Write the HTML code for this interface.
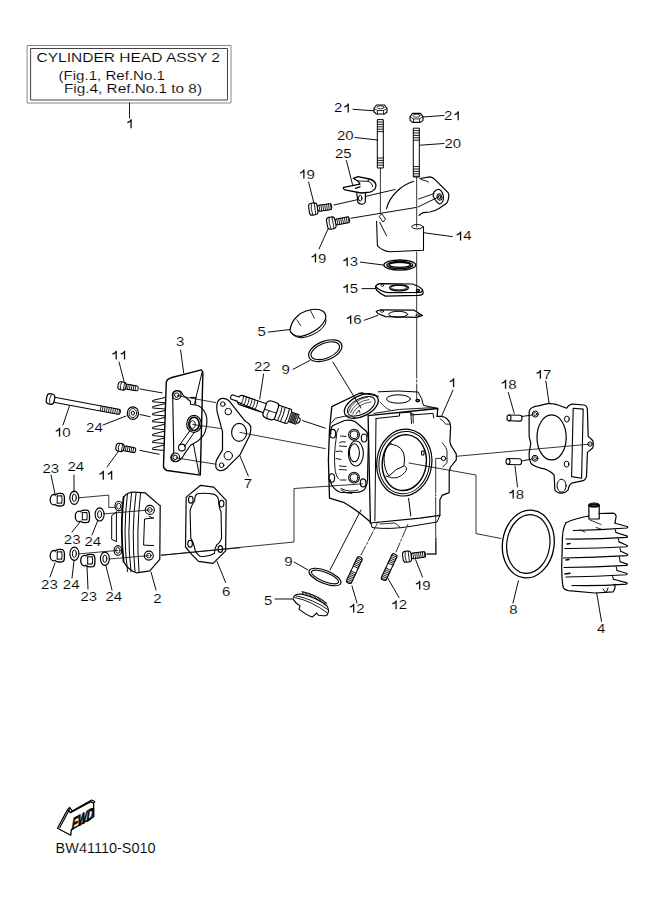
<!DOCTYPE html>
<html><head><meta charset="utf-8"><style>
html,body{margin:0;padding:0;background:#fff;width:661px;height:913px;overflow:hidden}
svg{display:block;font-family:"Liberation Sans",sans-serif}
</style></head><body>
<svg width="661" height="913" viewBox="0 0 661 913">
<g fill="none" stroke="#000" stroke-linejoin="round" stroke-linecap="round">
<rect x="27.5" y="45.5" width="203.5" height="57.5" stroke="#888" stroke-width="1"/>
<rect x="31" y="48.5" width="196.5" height="51.5" stroke="#444" stroke-width="1"/>
<line x1="129.5" y1="103" x2="129.5" y2="118" stroke-width="0.9" />
<g transform="translate(380.5,109.5)"><path d="M-6.5,-1 L-4,-4.5 L4,-4.5 L6.5,-1 L6.5,2.5 L4,4.5 L-4,4.5 L-6.5,2.5 Z" stroke-width="1.1"/><path d="M-6.5,-1 L-3,1 L3,1 L6.5,-1 M-3,1 L-3,4.5 M3,1 L3,4.5" stroke-width="0.8"/><ellipse cx="0" cy="-2.2" rx="3.5" ry="1.5" stroke-width="0.8"/></g>
<g transform="translate(416.5,117.9)"><path d="M-6.5,-1 L-4,-4.5 L4,-4.5 L6.5,-1 L6.5,2.5 L4,4.5 L-4,4.5 L-6.5,2.5 Z" stroke-width="1.1"/><path d="M-6.5,-1 L-3,1 L3,1 L6.5,-1 M-3,1 L-3,4.5 M3,1 L3,4.5" stroke-width="0.8"/><ellipse cx="0" cy="-2.2" rx="3.5" ry="1.5" stroke-width="0.8"/></g>
<rect x="377.7" y="119.6" width="5.6" height="48.400000000000006" stroke-width="1"/>
<line x1="377.7" y1="122.0" x2="383.3" y2="122.0" stroke-width="0.9" />
<line x1="377.7" y1="124.39999999999999" x2="383.3" y2="124.39999999999999" stroke-width="0.9" />
<line x1="377.7" y1="126.8" x2="383.3" y2="126.8" stroke-width="0.9" />
<line x1="377.7" y1="129.2" x2="383.3" y2="129.2" stroke-width="0.9" />
<line x1="377.7" y1="131.6" x2="383.3" y2="131.6" stroke-width="0.9" />
<line x1="377.7" y1="158.0" x2="383.3" y2="158.0" stroke-width="0.9" />
<line x1="377.7" y1="160.39999999999998" x2="383.3" y2="160.39999999999998" stroke-width="0.9" />
<line x1="377.7" y1="162.79999999999998" x2="383.3" y2="162.79999999999998" stroke-width="0.9" />
<line x1="377.7" y1="165.2" x2="383.3" y2="165.2" stroke-width="0.9" />
<rect x="413.7" y="128.2" width="5.6" height="48.80000000000001" stroke-width="1"/>
<line x1="413.7" y1="130.6" x2="419.3" y2="130.6" stroke-width="0.9" />
<line x1="413.7" y1="133.0" x2="419.3" y2="133.0" stroke-width="0.9" />
<line x1="413.7" y1="135.39999999999998" x2="419.3" y2="135.39999999999998" stroke-width="0.9" />
<line x1="413.7" y1="137.79999999999998" x2="419.3" y2="137.79999999999998" stroke-width="0.9" />
<line x1="413.7" y1="140.2" x2="419.3" y2="140.2" stroke-width="0.9" />
<line x1="413.7" y1="166.6" x2="419.3" y2="166.6" stroke-width="0.9" />
<line x1="413.7" y1="169.0" x2="419.3" y2="169.0" stroke-width="0.9" />
<line x1="413.7" y1="171.39999999999998" x2="419.3" y2="171.39999999999998" stroke-width="0.9" />
<line x1="413.7" y1="173.79999999999998" x2="419.3" y2="173.79999999999998" stroke-width="0.9" />
<line x1="413.7" y1="176.2" x2="419.3" y2="176.2" stroke-width="0.9" />
<line x1="353" y1="109.3" x2="374" y2="110.8" stroke-width="0.95" />
<line x1="422.5" y1="117" x2="444" y2="115.5" stroke-width="0.95" />
<line x1="355" y1="137.5" x2="377.7" y2="140" stroke-width="0.95" />
<line x1="420" y1="145.2" x2="444" y2="143.5" stroke-width="0.95" />
<line x1="380.4" y1="168" x2="380.4" y2="213" stroke-width="0.8" />
<line x1="416.7" y1="177" x2="416.7" y2="227" stroke-width="0.8" />
<line x1="416.7" y1="252" x2="416.7" y2="400" stroke-width="0.8" stroke-dasharray="60 2 2 2"/>
<path d="M353.3,178.3 L358,176.7 L369.3,179 Q375.5,180.5 376,185.5 Q375.5,190.5 370,192.2 L361.3,193 L345,189.8 Q342.3,188.6 343.8,187.3 L360,184.2 L357.8,181 Z" stroke-width="1.3" />
<path d="M357.8,181 L368,181.3 L369.3,179 M368,181.3 Q372.5,183 372.6,186.5" stroke-width="0.9" />
<path d="M356.7,193 L358,202.5 Q360,204.5 362.7,204.2 Q365,203.5 365.3,202 L365.5,193" stroke-width="1.2" />
<ellipse cx="360.2" cy="198.2" rx="1.7" ry="2.9" transform="rotate(0 360.2 198.2)" stroke-width="1.0" />
<path d="M355.5,188.3 L360,186.8" stroke-width="1.4" />
<line x1="346.4" y1="160.5" x2="352.5" y2="184.5" stroke-width="0.95" />
<g transform="translate(313.5,209) rotate(-7.86)"><rect x="4.0" y="-3" width="14.3" height="6" rx="1.8" stroke-width="1.0"/><line x1="6.0" y1="-3" x2="6.0" y2="3" stroke-width="0.8"/><line x1="7.9" y1="-3" x2="7.9" y2="3" stroke-width="0.8"/><line x1="9.8" y1="-3" x2="9.8" y2="3" stroke-width="0.8"/><line x1="11.7" y1="-3" x2="11.7" y2="3" stroke-width="0.8"/><line x1="13.6" y1="-3" x2="13.6" y2="3" stroke-width="0.8"/><line x1="15.5" y1="-3" x2="15.5" y2="3" stroke-width="0.8"/><line x1="17.4" y1="-3" x2="17.4" y2="3" stroke-width="0.8"/><rect x="-4.5" y="-6" width="8.5" height="12" rx="3" fill="#fff" stroke-width="1.1"/><path d="M-1.5,-5.5 Q-3,0 -1.5,5.5 M1.5,-5.7 L1.5,5.7" stroke-width="0.8"/></g>
<g transform="translate(331.5,223) rotate(-11.00)"><rect x="4.0" y="-3" width="14.3" height="6" rx="1.8" stroke-width="1.0"/><line x1="6.0" y1="-3" x2="6.0" y2="3" stroke-width="0.8"/><line x1="7.9" y1="-3" x2="7.9" y2="3" stroke-width="0.8"/><line x1="9.8" y1="-3" x2="9.8" y2="3" stroke-width="0.8"/><line x1="11.7" y1="-3" x2="11.7" y2="3" stroke-width="0.8"/><line x1="13.6" y1="-3" x2="13.6" y2="3" stroke-width="0.8"/><line x1="15.5" y1="-3" x2="15.5" y2="3" stroke-width="0.8"/><line x1="17.4" y1="-3" x2="17.4" y2="3" stroke-width="0.8"/><rect x="-4.5" y="-6" width="8.5" height="12" rx="3" fill="#fff" stroke-width="1.1"/><path d="M-1.5,-5.5 Q-3,0 -1.5,5.5 M1.5,-5.7 L1.5,5.7" stroke-width="0.8"/></g>
<line x1="308.6" y1="182" x2="313.9" y2="203.1" stroke-width="0.95" />
<line x1="319" y1="249" x2="328" y2="229" stroke-width="0.95" />
<line x1="334" y1="205" x2="357.8" y2="199.6" stroke-width="0.95" />
<line x1="366" y1="196.3" x2="395" y2="189.5" stroke-width="0.95" />
<line x1="351" y1="218.2" x2="416" y2="207.5" stroke-width="0.95" />
<line x1="418" y1="207" x2="439" y2="196.7" stroke-width="0.95" />
<path d="M413.7,181.3 C402,185 390,195 386.5,208.6" stroke-width="1.1" />
<path d="M419.7,178.5 L429.9,176.8 Q432.5,177.2 434.5,179.1 L448.1,192.7 Q449.5,195 448.6,197.2 Q448.5,200.5 446.9,202.9 L439,208.6 Q434,211.5 429.9,212 L423.1,212.6 Q421,213.5 419.1,215.4" stroke-width="1.2" />
<path d="M421,179.5 Q426,180.5 428.5,182" stroke-width="0.9" />
<path d="M434,192 Q437,188.8 439.5,189.5 Q443.5,192.5 443.5,198 Q443,203.5 439.5,204 Q436,202 433.3,196.5 Q432.5,194 434,192 Z" stroke-width="1.2" />
<ellipse cx="439.5" cy="197" rx="2.3" ry="3.2" transform="rotate(-15 439.5 197)" stroke-width="1.0" />
<ellipse cx="439.6" cy="197" rx="1.1" ry="1.8" transform="rotate(-15 439.6 197)" stroke-width="0.9" />
<path d="M418.6,199 L434.3,193.5" stroke-width="0.9" />
<path d="M376.6,221.4 L377.4,245.6 Q382,251 390,251.7 L423.5,250.2 L423.5,226.7" stroke-width="1.1" />
<ellipse cx="417.3" cy="226.7" rx="5.5" ry="2.2" transform="rotate(0 417.3 226.7)" stroke-width="1.0" />
<path d="M382,214 L385.5,219 L383,222 L379.5,217 Z" stroke-width="0.9" />
<line x1="379.7" y1="222.2" x2="386.5" y2="235.8" stroke-width="0.95" />
<line x1="424.3" y1="232.8" x2="452.3" y2="236.6" stroke-width="0.95" />
<ellipse cx="399.8" cy="265.1" rx="15.9" ry="5.1" transform="rotate(0 399.8 265.1)" stroke-width="1.3" />
<ellipse cx="399.8" cy="265.1" rx="13" ry="3.7" transform="rotate(0 399.8 265.1)" stroke-width="1.1" />
<ellipse cx="399.8" cy="264.8" rx="10.8" ry="2.6" transform="rotate(0 399.8 264.8)" stroke-width="1.2" />
<ellipse cx="399.8" cy="265.7" rx="12" ry="3" transform="rotate(0 399.8 265.7)" stroke-width="0.7" />
<line x1="360.4" y1="262.1" x2="383.9" y2="265.1" stroke-width="0.95" />
<path d="M375.6,286.3 Q377,283.8 380.8,283.6 L412.6,284 Q419,286 422.5,289.6 Q422.5,291.8 420.2,292.4 L388.4,292.7 Q380,291.5 375.6,286.3 Z" stroke-width="1.2" />
<path d="M375.6,286.3 Q375.5,289 377,290.5 Q381,294.5 385.4,296.1 L418.7,295.4 Q422.5,295 423.2,293.2 L422.5,289.6" stroke-width="1.2" />
<ellipse cx="399" cy="287.8" rx="9.5" ry="3" transform="rotate(0 399 287.8)" stroke-width="1.2" />
<ellipse cx="399" cy="287.6" rx="8" ry="2.2" transform="rotate(0 399 287.6)" stroke-width="0.8" />
<circle cx="382.4" cy="285.4" r="1.2" stroke-width="0.8" />
<ellipse cx="417.9" cy="290.4" rx="1.6" ry="1.1" transform="rotate(0 417.9 290.4)" stroke-width="1.3" />
<line x1="362" y1="288.6" x2="375.6" y2="288.6" stroke-width="0.95" />
<path d="M376.3,311.3 L380.8,309.8 L414.1,310.2 L422.5,315.4 L417.2,317.3 L385.4,316.6 L377.8,313.5 Z" stroke-width="1.2" />
<ellipse cx="398.2" cy="314.3" rx="9.5" ry="3" transform="rotate(0 398.2 314.3)" stroke-width="1.0" />
<ellipse cx="382" cy="311.3" rx="1.6" ry="1" transform="rotate(0 382 311.3)" stroke-width="0.8" />
<ellipse cx="417.5" cy="315.2" rx="1.8" ry="1" transform="rotate(0 417.5 315.2)" stroke-width="0.8" />
<line x1="364.2" y1="320.3" x2="377.8" y2="315.4" stroke-width="0.95" />
<path d="M290.1,330 Q291,322 297,316.5 Q301,312.5 306,311 L312,309.5 Q319,308.5 323.5,311.5 Q326.5,314.5 325.6,318.6 Q323.5,324 318,328.5 Q310,334.5 301.4,336.3 Q293.5,337 290.1,331 Z" stroke-width="1.2" />
<path d="M291,332.5 Q294,337.5 302,337.8 Q314,336 322,328.5 Q326.5,324 326.2,320" stroke-width="1.0" />
<path d="M296.9,319.7 L300.7,325.7 M310.5,310.6 L314.3,318.2" stroke-width="0.8" />
<line x1="268.2" y1="332.1" x2="290.1" y2="329.5" stroke-width="0.95" />
<ellipse cx="325.3" cy="350.7" rx="17.5" ry="9.5" transform="rotate(-21.5 325.3 350.7)" stroke-width="1.2" />
<ellipse cx="325.3" cy="350.7" rx="15" ry="7.5" transform="rotate(-21.5 325.3 350.7)" stroke-width="1.1" />
<line x1="293.1" y1="369.3" x2="309.8" y2="360.5" stroke-width="0.95" />
<line x1="332.9" y1="362" x2="361" y2="408" stroke-width="0.95" />
<path d="M166.3,381.9 Q167,379 171,377.8 L201.3,369.9 L202.9,372.2 L200.3,475.1 L166.9,470.5 Q163.5,469 163.5,465.9 L166.3,381.9 Z" stroke-width="1.4" />
<path d="M165.4,397.4 L152.8,400.4 Q151.2,401.2 152.8,401.8 L165.4,402.8 M165.2,403.6 L152.8,406.6 Q151.2,407.4 152.8,408.0 L165.2,409.0 M165.0,410.5 L152.8,413.5 Q151.2,414.3 152.8,414.9 L165.0,415.9 M164.8,417.4 L152.8,420.4 Q151.2,421.2 152.8,421.8 L164.8,422.8 M164.5,424.3 L152.8,427.3 Q151.2,428.1 152.8,428.7 L164.5,429.7 M164.3,431.2 L152.8,434.2 Q151.2,435.0 152.8,435.6 L164.3,436.6 M164.1,438.1 L152.8,441.1 Q151.2,441.9 152.8,442.5 L164.1,443.5 M163.8,445.0 L152.8,448.0 Q151.2,448.8 152.8,449.4 L163.8,450.4 " stroke-width="1.0" />
<path d="M173,397 Q172,392 176.7,390.5 Q180.5,390.5 181.5,392.5 L183,395.1 L190.5,401.5 L190.5,404.3 L198,405.5 Q205,409 206.8,418 Q207.5,428 203.7,434.8 Q199,441 194.5,442.9 L190.5,445.2 L184.2,454.4 Q181,460.5 176,461.5 Q171.5,461 171.3,457 L173.8,453.3 L172.7,398 Z" stroke-width="1.1" />
<circle cx="176.7" cy="395.1" r="4.4" stroke-width="1.1" />
<circle cx="176.7" cy="395.1" r="2.2" stroke-width="1.0" />
<circle cx="175.2" cy="457.4" r="4.4" stroke-width="1.1" />
<circle cx="175.2" cy="457.4" r="2.2" stroke-width="1.0" />
<ellipse cx="194" cy="423.9" rx="7.3" ry="8.6" transform="rotate(0 194 423.9)" stroke-width="1.2" />
<ellipse cx="194" cy="423.9" rx="5.2" ry="6.6" transform="rotate(0 194 423.9)" stroke-width="1.6" />
<ellipse cx="192.5" cy="424.5" rx="2.8" ry="3.8" transform="rotate(0 192.5 424.5)" stroke-width="0.9" />
<path d="M190,430.5 L180,444.5 M194.5,432 L184.5,446.5" stroke-width="1.0" />
<circle cx="181.9" cy="447.5" r="3.4" stroke-width="1.1" />
<path d="M190.5,397.4 L195.7,397.4 L195.7,404.3" stroke-width="1.0" />
<line x1="202" y1="372.5" x2="194.5" y2="403.8" stroke-width="1.0" />
<line x1="193.4" y1="444" x2="199.1" y2="474" stroke-width="1.0" />
<line x1="180.6" y1="350" x2="183.7" y2="373" stroke-width="0.95" />
<line x1="177.3" y1="395.7" x2="215.9" y2="402.6" stroke-width="0.8" />
<line x1="192.8" y1="424.5" x2="221.3" y2="428.6" stroke-width="0.8" />
<line x1="176.1" y1="457.9" x2="215.9" y2="464.2" stroke-width="0.8" />
<line x1="140" y1="389" x2="162.2" y2="392.9" stroke-width="0.95" />
<line x1="140" y1="414.5" x2="150" y2="416.7" stroke-width="0.95" />
<line x1="140" y1="450.4" x2="159.2" y2="454.3" stroke-width="0.95" />
<g transform="translate(122.5,386) rotate(9.52)"><rect x="3.5" y="-2.5" width="12.3" height="5.0" rx="1.5" stroke-width="1.0"/><line x1="5.5" y1="-2.5" x2="5.5" y2="2.5" stroke-width="0.8"/><line x1="7.4" y1="-2.5" x2="7.4" y2="2.5" stroke-width="0.8"/><line x1="9.3" y1="-2.5" x2="9.3" y2="2.5" stroke-width="0.8"/><line x1="11.2" y1="-2.5" x2="11.2" y2="2.5" stroke-width="0.8"/><line x1="13.1" y1="-2.5" x2="13.1" y2="2.5" stroke-width="0.8"/><rect x="-4.5" y="-4" width="8.0" height="8" rx="3" fill="#fff" stroke-width="1.1"/><path d="M-1.5,-3.5 Q-3,0 -1.5,3.5 M1.5,-3.7 L1.5,3.7" stroke-width="0.8"/></g>
<g transform="translate(120.5,447.5) rotate(10.94)"><rect x="3.4" y="-2.5" width="11.9" height="5.0" rx="1.5" stroke-width="1.0"/><line x1="5.4" y1="-2.5" x2="5.4" y2="2.5" stroke-width="0.8"/><line x1="7.3" y1="-2.5" x2="7.3" y2="2.5" stroke-width="0.8"/><line x1="9.2" y1="-2.5" x2="9.2" y2="2.5" stroke-width="0.8"/><line x1="11.1" y1="-2.5" x2="11.1" y2="2.5" stroke-width="0.8"/><line x1="13.0" y1="-2.5" x2="13.0" y2="2.5" stroke-width="0.8"/><rect x="-4.5" y="-4" width="7.9" height="8" rx="3" fill="#fff" stroke-width="1.1"/><path d="M-1.5,-3.5 Q-3,0 -1.5,3.5 M1.5,-3.7 L1.5,3.7" stroke-width="0.8"/></g>
<line x1="119" y1="362" x2="124" y2="381" stroke-width="0.95" />
<line x1="107" y1="467" x2="118" y2="452" stroke-width="0.95" />
<g transform="translate(51.5,399.2) rotate(10.6)"><rect x="2" y="-2.5" width="68" height="5" rx="2" stroke-width="1.0"/><line x1="50.0" y1="-2.5" x2="50.0" y2="2.5" stroke-width="0.8"/><line x1="52.1" y1="-2.5" x2="52.1" y2="2.5" stroke-width="0.8"/><line x1="54.2" y1="-2.5" x2="54.2" y2="2.5" stroke-width="0.8"/><line x1="56.3" y1="-2.5" x2="56.3" y2="2.5" stroke-width="0.8"/><line x1="58.4" y1="-2.5" x2="58.4" y2="2.5" stroke-width="0.8"/><line x1="60.5" y1="-2.5" x2="60.5" y2="2.5" stroke-width="0.8"/><line x1="62.6" y1="-2.5" x2="62.6" y2="2.5" stroke-width="0.8"/><line x1="64.7" y1="-2.5" x2="64.7" y2="2.5" stroke-width="0.8"/><line x1="66.8" y1="-2.5" x2="66.8" y2="2.5" stroke-width="0.8"/><line x1="68.9" y1="-2.5" x2="68.9" y2="2.5" stroke-width="0.8"/><rect x="-5" y="-5.2" width="8" height="10.4" rx="3.5" fill="#fff" stroke-width="1.2"/><path d="M-1,-4.5 Q-3,0 -1,4.5" stroke-width="0.8"/></g>
<line x1="69.4" y1="406" x2="63" y2="425" stroke-width="0.95" />
<ellipse cx="132.9" cy="413.1" rx="5.6" ry="6.3" transform="rotate(0 132.9 413.1)" stroke-width="1.2" />
<ellipse cx="132.9" cy="413.1" rx="3.8" ry="4.5" transform="rotate(0 132.9 413.1)" stroke-width="0.9" />
<ellipse cx="132.9" cy="413.1" rx="1.6" ry="2" transform="rotate(0 132.9 413.1)" stroke-width="1.0" />
<line x1="103" y1="425" x2="126" y2="416" stroke-width="0.95" />
<g transform="translate(230.8,396.6) rotate(18.9)"><path d="M8,-2.3 L1.5,-2.3 Q0,-2.3 0,0 Q0,2.3 1.5,2.3 L8,2.3" stroke-width="1.1"/><path d="M8,-3 Q9,-4.8 11,-4.8 L36,-4.8 M36,4.8 L11,4.8 Q9,4.8 8,3 Z" stroke-width="1.1"/><path d="M12,-4.8 Q13.2,0 12,4.8" stroke-width="0.8"/><path d="M15,-4.8 Q16.2,0 15,4.8" stroke-width="0.8"/><path d="M18,-4.8 Q19.2,0 18,4.8" stroke-width="0.8"/><path d="M21,-4.8 Q22.2,0 21,4.8" stroke-width="0.8"/><path d="M24,-4.8 Q25.2,0 24,4.8" stroke-width="0.8"/><path d="M27,-4.8 Q28.2,0 27,4.8" stroke-width="0.8"/><path d="M36,-6.5 Q37,-8.8 40,-9 L46,-9 Q48.5,-8.5 48.5,-6 L48.5,6 Q48,8.8 45,9 L40,9 Q37,8.8 36,6.5 Z" stroke-width="1.2"/><path d="M36.5,1 L48,1 M41,1 Q39,5 41,8.5" stroke-width="0.8"/><path d="M48.5,-7.5 L61,-7.5 Q62.5,-7 62.5,-5 L62.5,5 Q62.5,7 61,7.5 L48.5,7.5" stroke-width="1.1"/><path d="M52,-7.5 Q53,0 52,7.5 M55,-7.5 Q56,0 55,7.5 M59.5,-7.5 Q60.5,0 59.5,7.5" stroke-width="0.9"/><path d="M62.5,-5 L70.5,-5 L70.5,5 L62.5,5" stroke-width="1.0"/><path d="M63.5,-4.5 L69.5,-4.5 L69.5,4.5 L63.5,4.5 Z" stroke-width="0" fill="#000" fill-opacity="0.55"/><line x1="64" y1="-5" x2="64" y2="5" stroke-width="0.6"/><line x1="65.5" y1="-5" x2="65.5" y2="5" stroke-width="0.6"/><line x1="67" y1="-5" x2="67" y2="5" stroke-width="0.6"/><line x1="68.5" y1="-5" x2="68.5" y2="5" stroke-width="0.6"/><path d="M70.5,-2.5 L73,-1.5 Q74,2 72,3.5 Q70,4 69.5,2.5" stroke-width="1.0"/></g>
<line x1="263.6" y1="374" x2="259.7" y2="399" stroke-width="0.95" />
<line x1="302.5" y1="420.6" x2="325.3" y2="428.1" stroke-width="0.95" />
<path d="M217.5,402.5 Q219,398 223.3,398.3 Q227,398.5 229.1,400.8 L244.9,420.8 Q250,424 250.8,427 Q251,431 249.9,434.9 L239.9,454.9 L226.6,468.2 Q223,471 220,470.7 Q216,469.5 215.8,466.5 Q215.5,462 216.6,459.9 L222.5,449.9 L222.5,431.6 L217.5,413.3 Q216,407 217.5,402.5 Z" stroke-width="1.2" />
<circle cx="222.8" cy="404.1" r="2.3" stroke-width="1.0" />
<circle cx="228.3" cy="411.6" r="3.3" stroke-width="1.0" />
<ellipse cx="239.1" cy="432.4" rx="7.5" ry="9" transform="rotate(0 239.1 432.4)" stroke-width="1.1" />
<circle cx="228.3" cy="455.7" r="4.2" stroke-width="1.0" />
<circle cx="221.6" cy="465.2" r="2.3" stroke-width="1.0" />
<line x1="239.9" y1="432.4" x2="325.3" y2="448.6" stroke-width="0.8" />
<line x1="239.9" y1="455.7" x2="248.3" y2="476" stroke-width="0.95" />
<path d="M532.4,407.5 Q535,405.8 538.3,405.8 Q545,404 549.1,403.3 Q556,404 558.2,405 Q563,407 566.6,408.3 Q569,404 573.2,404.1 L584,405 Q587.4,406 587.4,410 L588.2,436.6 Q593,440 593.2,442.4 Q593.5,447 592.4,448.3 L587.4,452.4 L586.5,476.6 Q585,480.5 583.2,480.7 L571.6,483.2 Q568.8,485 568.2,489.9 Q565,493.5 561.6,493.2 Q556,492.5 554.9,489.9 L554.1,474.9 Q548,469 540.8,468.2 Q533,466 530.8,463.2 Q528.5,458 529.1,453.2 L530.8,443.3 Q528.5,437 529.1,431.6 L529.1,413.3 Q529,409 532.4,407.5 Z" stroke-width="1.2" />
<ellipse cx="551.6" cy="437.4" rx="14.6" ry="22.5" transform="rotate(0 551.6 437.4)" stroke-width="1.2" />
<circle cx="535.3" cy="414.1" r="3" stroke-width="1.0" />
<circle cx="535.3" cy="414.1" r="1.5" stroke-width="0.8" />
<ellipse cx="566.9" cy="419.1" rx="2.4" ry="3" transform="rotate(0 566.9 419.1)" stroke-width="1.0" />
<circle cx="535" cy="458.3" r="3" stroke-width="1.0" />
<circle cx="535" cy="458.3" r="1.5" stroke-width="0.8" />
<ellipse cx="566.6" cy="464.1" rx="2.4" ry="3" transform="rotate(0 566.6 464.1)" stroke-width="1.0" />
<ellipse cx="561.6" cy="485.7" rx="4.5" ry="6.5" transform="rotate(0 561.6 485.7)" stroke-width="1.0" />
<circle cx="590" cy="444.1" r="2.2" stroke-width="1.0" />
<path d="M573.2,408.3 L583.2,409.1 L581.6,478.3 L571.6,476.6 Z" stroke-width="1.1" />
<path d="M509,415 L520,415.3 A2,2.9 0 0 1 520,421.1 L509,420.8 " stroke-width="1.1"/><ellipse cx="509" cy="417.9" rx="2" ry="2.9" stroke-width="1.1"/>
<path d="M508,458.5 L519.5,458.8 A2,2.9 0 0 1 519.5,464.8 L508,464.5 " stroke-width="1.1"/><ellipse cx="508" cy="461.5" rx="2" ry="2.9" stroke-width="1.1"/>
<line x1="521.6" y1="416.5" x2="532" y2="415" stroke-width="0.95" />
<line x1="521.6" y1="461" x2="532" y2="459" stroke-width="0.95" />
<line x1="545.8" y1="381" x2="549.1" y2="403.3" stroke-width="0.95" />
<line x1="508.3" y1="392.5" x2="514.2" y2="413.3" stroke-width="0.95" />
<line x1="515" y1="466" x2="517.5" y2="487" stroke-width="0.95" />
<path d="M362.4,393 L359,393.5 L331.8,406.6 L329.5,430 L328.4,460 L329.5,498.1 L344.3,502.7 Q357,510 370.4,522" stroke-width="1.3" />
<path d="M368.1,415.6 L370.4,523 M368.1,415.6 L437.8,408.5 L437.1,416.4" stroke-width="1.3" />
<path d="M376,418.5 L374.9,520.8" stroke-width="1.0" />
<path d="M376,418.5 L399.5,416 L399.5,413 L411,412 L411,415 L433,413.4 L433.8,418" stroke-width="1.0" />
<path d="M373.8,413.4 L399.5,409.4 L411,408.8 L430,407.8 L437.8,408.5" stroke-width="0.9" />
<path d="M410.9,413.4 L411.5,423.6 M413,413.4 L413.3,423" stroke-width="0.9" />
<path d="M362.4,393 L378.3,396.3 M378.3,391.8 Q398,390 418,392 L421.7,398.6 L423.4,405.4 L429,406.6 L437.6,408.3" stroke-width="1.0" />
<ellipse cx="398.5" cy="399" rx="12" ry="4.2" transform="rotate(0 398.5 399)" stroke-width="1.0" />
<path d="M380,402 Q386,409 390,410" stroke-width="0.8" />
<ellipse cx="417.7" cy="400.6" rx="1.8" ry="1.1" transform="rotate(0 417.7 400.6)" stroke-width="1.4" />
<ellipse cx="361.3" cy="406" rx="18.3" ry="10.3" transform="rotate(-27 361.3 406)" stroke-width="1.3" />
<ellipse cx="361.3" cy="406.3" rx="15" ry="7.8" transform="rotate(-27 361.3 406.3)" stroke-width="1.0" />
<path d="M348.5,412 Q352,400 368,397 M350.5,413 Q354,402 369,399.5 M352.5,414 Q357,404 371,401.8" stroke-width="0.7" />
<path d="M356,414 L359,410 L360,413" stroke-width="0.8" />
<path d="M330.8,434.2 Q330,428 333,425.5 L344.5,420.5 Q350,419.5 355,421.5 L366,431 Q368.5,434 368.4,440.9 L367.5,479.5 Q367,486 364.6,489.1 Q362,492 356,492.5 L341,492.5 Q336,491 331.8,485.3 L329.9,479.5" stroke-width="1.2" />
<path d="M331.5,423 L335.2,418.3 L346.3,415.9 Q352,415.5 356,418" stroke-width="0.9" />
<ellipse cx="332.8" cy="433.7" rx="2.9" ry="4.3" transform="rotate(0 332.8 433.7)" stroke-width="1.1" />
<ellipse cx="364.1" cy="438" rx="2.8" ry="4" transform="rotate(0 364.1 438)" stroke-width="1.1" />
<ellipse cx="331.8" cy="478" rx="2.8" ry="4.3" transform="rotate(0 331.8 478)" stroke-width="1.1" />
<ellipse cx="363.1" cy="482.9" rx="2.8" ry="4" transform="rotate(0 363.1 482.9)" stroke-width="1.1" />
<circle cx="354" cy="434.7" r="5.4" stroke-width="1.1" />
<circle cx="354" cy="434.7" r="3.9" stroke-width="1.0" />
<circle cx="354" cy="477.6" r="5.4" stroke-width="1.1" />
<circle cx="354" cy="477.6" r="3.9" stroke-width="1.0" />
<ellipse cx="355.9" cy="453.5" rx="7.5" ry="12.5" transform="rotate(0 355.9 453.5)" stroke-width="1.1" />
<ellipse cx="354.4" cy="452.8" rx="5" ry="9" transform="rotate(0 354.4 452.8)" stroke-width="1.1" />
<path d="M338.5,428.5 Q336,432 336.5,436 Q335,445 334.5,455 Q334.5,470 336,474 Q337,478 339,479" stroke-width="0.9" />
<path d="M340.5,436 L346,436.5 M339.5,442.5 Q341,441 345.5,442 M339.5,446 L346.5,446.5 M336,451.5 L341,451 L342.5,452 M336,458.5 L341,459.5 M339.5,466 L346,466.5 M339.5,469.5 L346.5,470 M340.5,480 L346,480" stroke-width="0.9" />
<path d="M341,490 Q346,494 352,493.5 M341,488.5 Q350,493 358,490" stroke-width="0.9" />
<ellipse cx="404.3" cy="462.6" rx="27.5" ry="33.5" transform="rotate(8 404.3 462.6)" stroke-width="1.2" />
<ellipse cx="404.3" cy="462.6" rx="25.3" ry="31.3" transform="rotate(8 404.3 462.6)" stroke-width="1.0" />
<ellipse cx="404.3" cy="462.6" rx="22" ry="28" transform="rotate(8 404.3 462.6)" stroke-width="1.4" />
<path d="M391,444 Q404,446 404.5,458 L404,466 Q396,468 389,476 Q384,470 384,458 Q385,446 391,444 Z" stroke-width="1.0" />
<path d="M386,476 Q398,482 406,471 Q408,468 405,466" stroke-width="0.9" />
<path d="M422,451 L424,451 L424,455 L422,455 Z" stroke-width="1.0" />
<path d="M408.6,498.4 L410.8,516" stroke-width="1.0" />
<path d="M437.1,416.4 L441.4,416.4 Q447,417 449.9,422.8 L450.6,427 L449.9,441.3 Q450,445 452,447 L456.3,454.1 L456.3,459.8 L450.6,467 L449.2,471.2 L449.2,492.6 L442.1,495.4 L439.9,499.7 L439.9,515.4 L420,518.2 L370.4,523" stroke-width="1.2" />
<path d="M440,418.5 Q444,421 445.6,424.2 L449.9,424.2" stroke-width="0.8" />
<path d="M442.1,442.7 Q447,448 447,451.3 L447,462.7 L442.8,467" stroke-width="0.9" />
<circle cx="443.5" cy="458.4" r="2.2" stroke-width="1.0" />
<path d="M371,523 L372,527.5 Q390,530 413,526 L437,522 L439.9,515.4" stroke-width="1.0" />
<path d="M380,524 L395,523 L400,527" stroke-width="0.8" />
<line x1="453" y1="390" x2="441.8" y2="415.7" stroke-width="0.95" />
<path d="M441.4,458.4 L435.7,458.4 L435.7,554 L427,554" stroke-width="0.8" stroke-dasharray="40 1.5 1.5 1.5"/>
<path d="M409,463 L476,475 L476,533.6 L501,538.5" stroke-width="0.8" />
<line x1="456.3" y1="456.3" x2="590" y2="444.1" stroke-width="0.8" />
<path d="M161.4,555.2 L294,542 L294,488.5 L362.4,483.9" stroke-width="0.8" />
<ellipse cx="528.3" cy="544" rx="25.8" ry="34" transform="rotate(8 528.3 544)" stroke-width="1.3" />
<ellipse cx="528.3" cy="544" rx="21.5" ry="29.5" transform="rotate(8 528.3 544)" stroke-width="1.2" />
<line x1="518.4" y1="580.7" x2="513" y2="603" stroke-width="0.95" />
<path d="M565.9,522.8 Q576,518 588.9,516 M599.2,513.5 L613.5,513.2 Q616.1,514 616.1,516.5 L615,523.2" stroke-width="1.2" />
<path d="M565.9,522.8 Q562,530 562.3,543.4 L561.7,567.6 Q562,585 563.5,588.2 Q565,590 568.3,590.6 L595,593 L613.1,591.8 Q614.5,590 614.9,588.2 L615,584.5" stroke-width="1.2" />
<rect x="588.9" y="505" width="10.3" height="14" stroke-width="1.2"/>
<ellipse cx="594" cy="505" rx="5.2" ry="2" transform="rotate(0 594 505)" stroke-width="1.2" />
<ellipse cx="594" cy="505.2" rx="4" ry="1.2" transform="rotate(0 594 505.2)" stroke-width="1.6" />
<path d="M615,523.2 L626.9,526.5 Q628.6999999999999,527.1999999999999 626.9,528.0 Q600.5,530.0 573.2,530.5" stroke-width="1.15" />
<path d="M615.2,529.5 L616,532.5" stroke-width="1.0" />
<path d="M616,532.5 L626.6,535.9000000000001 Q628.4,536.6 626.6,537.4000000000001 Q596.8,539.4 565.9,539" stroke-width="1.15" />
<path d="M618.3,538.6 L619.1,541.9" stroke-width="1.0" />
<path d="M619.1,541.9 L626.6,545.2 Q628.4,545.9 626.6,546.7 Q596.2,548.7 564.7,548.5" stroke-width="1.15" />
<path d="M619.9,547.9 L620.7,551.3" stroke-width="1.0" />
<path d="M620.7,551.3 L626.9,554.1 Q628.6999999999999,554.8 626.9,555.6 Q595.7,557.6 563.5,558" stroke-width="1.15" />
<path d="M619.3,556.9 L620.1,561.7" stroke-width="1.0" />
<path d="M620.1,561.7 L626.6,563.9000000000001 Q628.4,564.6 626.6,565.4000000000001 Q595.9,567.4 564.1,567.5" stroke-width="1.15" />
<path d="M616.2,566.8 L617,570.5" stroke-width="1.0" />
<path d="M617,570.5 L626.3,573.3000000000001 Q628.0999999999999,574.0 626.3,574.8000000000001 Q596.6,576.8 565.9,577" stroke-width="1.15" />
<path d="M612.6,576.3 L613.4,579.3" stroke-width="1.0" />
<path d="M613.4,579.3 L626.3,582.6 Q628.0999999999999,583.3 626.3,584.1 Q599.6,586.1 572,585.5" stroke-width="1.15" />
<path d="M613.4,584.6 L615,584.5" stroke-width="1.0" />
<path d="M590,520 L601,524.5 M596,527.5 L601,529 M580,530 L585,532" stroke-width="0.8" />
<path d="M567,544 L570,543.5 M566,560 L569,559.5 M565,574 L570,573.3" stroke-width="1.4" />
<path d="M603,589 L606,593 L608,588" stroke-width="1.0" />
<line x1="596.7" y1="593" x2="601.5" y2="621.5" stroke-width="0.95" />
<path d="M124,496.6 Q128,492 134,492.2 L145,492.8 L159.3,505.1 L160.2,505.6 L159.8,559.4 L149.8,570.9 L136.4,572.8 Q128,570 124,562.3" stroke-width="1.2" />
<path d="M123.6,497 Q120,530 123.6,562" stroke-width="1.8" />
<path d="M127.5,493.5 Q122.5,532 127.5,571.5" stroke-width="1.0" />
<path d="M131.5,493.5 Q126.5,532 131,571.5" stroke-width="1.0" />
<path d="M136,493.5 Q131,532 135,571.5" stroke-width="1.0" />
<path d="M140.5,493.5 Q136.0,532 139,571.5" stroke-width="1.0" />
<path d="M153.6,518 L144.5,519 L143.6,545.1 L153.6,545.6 M149,516.5 L153,518" stroke-width="1.0" />
<path d="M116.4,512 L111.7,515.6 L111.7,539.4 L116.4,541.5 M116.4,512 L116.4,541.5" stroke-width="1.0" />
<ellipse cx="118.8" cy="506.1" rx="3.8" ry="4.8" transform="rotate(0 118.8 506.1)" stroke-width="1.1" />
<ellipse cx="118.8" cy="506.1" rx="2.2" ry="2.9" transform="rotate(0 118.8 506.1)" stroke-width="0.9" />
<ellipse cx="117.9" cy="550.4" rx="3.8" ry="4.8" transform="rotate(0 117.9 550.4)" stroke-width="1.1" />
<ellipse cx="117.9" cy="550.4" rx="2.2" ry="2.9" transform="rotate(0 117.9 550.4)" stroke-width="0.9" />
<circle cx="149.8" cy="509.9" r="4.5" stroke-width="1.1" />
<circle cx="149.8" cy="509.9" r="2.3" stroke-width="0.9" />
<circle cx="148.8" cy="555.6" r="4.5" stroke-width="1.1" />
<circle cx="148.8" cy="555.6" r="2.3" stroke-width="0.9" />
<path d="M79,497.8 L108.8,495.1 L108.8,507.5 L115,507.3" stroke-width="0.8" />
<line x1="104" y1="513.9" x2="149.8" y2="509.9" stroke-width="0.8" />
<line x1="79" y1="553.9" x2="117.9" y2="550.4" stroke-width="0.8" />
<line x1="109.5" y1="559" x2="148.8" y2="555.6" stroke-width="0.8" />
<line x1="161.4" y1="555.2" x2="240" y2="547.8" stroke-width="0.8" />
<line x1="151" y1="572" x2="156" y2="590" stroke-width="0.95" />
<g transform="translate(57.2,499.7)"><ellipse cx="-3.3" cy="0" rx="3.7" ry="5.2" stroke-width="1.3"/><path d="M-1.5,-5.2 Q0,-6.4 3,-6.3 L5.5,-6 Q7.2,-5 7.2,-2 L7.2,2 Q7.2,5.3 5.5,6 L3,6.3 Q0,6.4 -1.5,5.2" fill="#fff" stroke-width="1.3"/><path d="M0,-3.8 L4.5,-3.8 M0,3.4 L4.5,3.4 M0,-3.8 L0,3.4 M4.5,-3.8 Q5.5,0 4.5,3.4" stroke-width="1.0"/></g>
<g transform="translate(82.3,516.4)"><ellipse cx="-3.3" cy="0" rx="3.7" ry="5.2" stroke-width="1.3"/><path d="M-1.5,-5.2 Q0,-6.4 3,-6.3 L5.5,-6 Q7.2,-5 7.2,-2 L7.2,2 Q7.2,5.3 5.5,6 L3,6.3 Q0,6.4 -1.5,5.2" fill="#fff" stroke-width="1.3"/><path d="M0,-3.8 L4.5,-3.8 M0,3.4 L4.5,3.4 M0,-3.8 L0,3.4 M4.5,-3.8 Q5.5,0 4.5,3.4" stroke-width="1.0"/></g>
<g transform="translate(57.2,555.7)"><ellipse cx="-3.3" cy="0" rx="3.7" ry="5.2" stroke-width="1.3"/><path d="M-1.5,-5.2 Q0,-6.4 3,-6.3 L5.5,-6 Q7.2,-5 7.2,-2 L7.2,2 Q7.2,5.3 5.5,6 L3,6.3 Q0,6.4 -1.5,5.2" fill="#fff" stroke-width="1.3"/><path d="M0,-3.8 L4.5,-3.8 M0,3.4 L4.5,3.4 M0,-3.8 L0,3.4 M4.5,-3.8 Q5.5,0 4.5,3.4" stroke-width="1.0"/></g>
<g transform="translate(87.7,560.6)"><ellipse cx="-3.3" cy="0" rx="3.7" ry="5.2" stroke-width="1.3"/><path d="M-1.5,-5.2 Q0,-6.4 3,-6.3 L5.5,-6 Q7.2,-5 7.2,-2 L7.2,2 Q7.2,5.3 5.5,6 L3,6.3 Q0,6.4 -1.5,5.2" fill="#fff" stroke-width="1.3"/><path d="M0,-3.8 L4.5,-3.8 M0,3.4 L4.5,3.4 M0,-3.8 L0,3.4 M4.5,-3.8 Q5.5,0 4.5,3.4" stroke-width="1.0"/></g>
<ellipse cx="74.3" cy="497.8" rx="4.5" ry="6.6" transform="rotate(0 74.3 497.8)" stroke-width="1.15" />
<ellipse cx="74.3" cy="497.8" rx="2.0" ry="3.7" transform="rotate(0 74.3 497.8)" stroke-width="1.0" />
<ellipse cx="99.6" cy="514.4" rx="4.5" ry="6.6" transform="rotate(0 99.6 514.4)" stroke-width="1.15" />
<ellipse cx="99.6" cy="514.4" rx="2.0" ry="3.7" transform="rotate(0 99.6 514.4)" stroke-width="1.0" />
<ellipse cx="74.4" cy="553.7" rx="4.5" ry="6.6" transform="rotate(0 74.4 553.7)" stroke-width="1.15" />
<ellipse cx="74.4" cy="553.7" rx="2.0" ry="3.7" transform="rotate(0 74.4 553.7)" stroke-width="1.0" />
<ellipse cx="104.9" cy="558.7" rx="4.5" ry="6.6" transform="rotate(0 104.9 558.7)" stroke-width="1.15" />
<ellipse cx="104.9" cy="558.7" rx="2.0" ry="3.7" transform="rotate(0 104.9 558.7)" stroke-width="1.0" />
<line x1="51" y1="475" x2="55" y2="494" stroke-width="0.95" />
<line x1="74" y1="475" x2="74" y2="492" stroke-width="0.95" />
<line x1="72" y1="532" x2="80" y2="522" stroke-width="0.95" />
<line x1="92" y1="535" x2="98" y2="520" stroke-width="0.95" />
<line x1="50" y1="577" x2="55" y2="563" stroke-width="0.95" />
<line x1="72" y1="578" x2="74" y2="561" stroke-width="0.95" />
<line x1="88" y1="589" x2="87" y2="566" stroke-width="0.95" />
<line x1="112" y1="590" x2="106" y2="566" stroke-width="0.95" />
<path d="M200.6,485.3 L213.7,487.2 L226.2,500.4 L225.6,550.9 L213.1,563.4 L198.6,561.4 L191.4,554.2 L185.5,547 L186.2,497.1 Z" stroke-width="1.2" />
<path d="M197.3,493.8 Q205,492.5 214.4,494.4 Q218,496 218.5,500 Q218.5,507 221,511.5 L221.6,537.8 Q220,543 217,544.4 Q214.5,548 214.4,553.5 Q207,557.5 200,556.2 Q195.5,553 194.7,548.3 Q193,541 190.8,538.4 L190.1,510.2 Q192,504 194.7,501 Q194.5,495.5 197.3,493.8 Z" stroke-width="1.1" />
<ellipse cx="190.8" cy="499.7" rx="2.3" ry="3.4" transform="rotate(0 190.8 499.7)" stroke-width="1.1" />
<ellipse cx="221.6" cy="503.6" rx="2.3" ry="3.4" transform="rotate(0 221.6 503.6)" stroke-width="1.1" />
<ellipse cx="190.1" cy="543.7" rx="2.3" ry="3.4" transform="rotate(0 190.1 543.7)" stroke-width="1.1" />
<ellipse cx="220.3" cy="549" rx="2.3" ry="3.4" transform="rotate(0 220.3 549)" stroke-width="1.1" />
<line x1="217" y1="561.4" x2="225.6" y2="582.4" stroke-width="0.95" />
<ellipse cx="325" cy="577" rx="17" ry="6.5" transform="rotate(22 325 577)" stroke-width="1.2" />
<ellipse cx="325" cy="577" rx="14.5" ry="4.5" transform="rotate(22 325 577)" stroke-width="1.1" />
<line x1="294" y1="562" x2="308" y2="570" stroke-width="0.95" />
<line x1="330" y1="570" x2="361" y2="510" stroke-width="0.95" />
<g transform="translate(360.4,557.2) rotate(115.13)"><rect x="0" y="-2.7" width="28.5" height="5.4" rx="2.2" stroke-width="1.1"/><line x1="2.0" y1="-2.7" x2="2.0" y2="2.7" stroke-width="0.8"/><line x1="3.8" y1="-2.7" x2="3.8" y2="2.7" stroke-width="0.8"/><line x1="5.6" y1="-2.7" x2="5.6" y2="2.7" stroke-width="0.8"/><line x1="7.4" y1="-2.7" x2="7.4" y2="2.7" stroke-width="0.8"/><line x1="9.2" y1="-2.7" x2="9.2" y2="2.7" stroke-width="0.8"/><line x1="11.0" y1="-2.7" x2="11.0" y2="2.7" stroke-width="0.8"/><line x1="16.4" y1="-2.7" x2="16.4" y2="2.7" stroke-width="0.8"/><line x1="18.2" y1="-2.7" x2="18.2" y2="2.7" stroke-width="0.8"/><line x1="20.0" y1="-2.7" x2="20.0" y2="2.7" stroke-width="0.8"/><line x1="21.8" y1="-2.7" x2="21.8" y2="2.7" stroke-width="0.8"/><line x1="23.6" y1="-2.7" x2="23.6" y2="2.7" stroke-width="0.8"/><line x1="25.4" y1="-2.7" x2="25.4" y2="2.7" stroke-width="0.8"/><line x1="27.2" y1="-2.7" x2="27.2" y2="2.7" stroke-width="0.8"/></g>
<g transform="translate(395.2,554.2) rotate(115.13)"><rect x="0" y="-2.7" width="28.5" height="5.4" rx="2.2" stroke-width="1.1"/><line x1="2.0" y1="-2.7" x2="2.0" y2="2.7" stroke-width="0.8"/><line x1="3.8" y1="-2.7" x2="3.8" y2="2.7" stroke-width="0.8"/><line x1="5.6" y1="-2.7" x2="5.6" y2="2.7" stroke-width="0.8"/><line x1="7.4" y1="-2.7" x2="7.4" y2="2.7" stroke-width="0.8"/><line x1="9.2" y1="-2.7" x2="9.2" y2="2.7" stroke-width="0.8"/><line x1="11.0" y1="-2.7" x2="11.0" y2="2.7" stroke-width="0.8"/><line x1="16.4" y1="-2.7" x2="16.4" y2="2.7" stroke-width="0.8"/><line x1="18.2" y1="-2.7" x2="18.2" y2="2.7" stroke-width="0.8"/><line x1="20.0" y1="-2.7" x2="20.0" y2="2.7" stroke-width="0.8"/><line x1="21.8" y1="-2.7" x2="21.8" y2="2.7" stroke-width="0.8"/><line x1="23.6" y1="-2.7" x2="23.6" y2="2.7" stroke-width="0.8"/><line x1="25.4" y1="-2.7" x2="25.4" y2="2.7" stroke-width="0.8"/><line x1="27.2" y1="-2.7" x2="27.2" y2="2.7" stroke-width="0.8"/></g>
<line x1="361" y1="555" x2="378" y2="522" stroke-width="0.8" stroke-dasharray="10 2 2 2"/>
<line x1="396" y1="552" x2="408" y2="524" stroke-width="0.8" stroke-dasharray="10 2 2 2"/>
<line x1="352" y1="586" x2="357" y2="603" stroke-width="0.95" />
<line x1="387.7" y1="578" x2="399" y2="597.5" stroke-width="0.95" />
<g transform="translate(407.3,556.6) rotate(-7.51)"><rect x="4.0" y="-2.8" width="14.3" height="5.6" rx="1.7" stroke-width="1.0"/><line x1="6.0" y1="-2.8" x2="6.0" y2="2.8" stroke-width="0.8"/><line x1="7.9" y1="-2.8" x2="7.9" y2="2.8" stroke-width="0.8"/><line x1="9.8" y1="-2.8" x2="9.8" y2="2.8" stroke-width="0.8"/><line x1="11.7" y1="-2.8" x2="11.7" y2="2.8" stroke-width="0.8"/><line x1="13.6" y1="-2.8" x2="13.6" y2="2.8" stroke-width="0.8"/><line x1="15.5" y1="-2.8" x2="15.5" y2="2.8" stroke-width="0.8"/><line x1="17.4" y1="-2.8" x2="17.4" y2="2.8" stroke-width="0.8"/><rect x="-4.5" y="-5.5" width="8.5" height="11.0" rx="3" fill="#fff" stroke-width="1.1"/><path d="M-1.5,-5.0 Q-3,0 -1.5,5.0 M1.5,-5.2 L1.5,5.2" stroke-width="0.8"/></g>
<line x1="427" y1="554" x2="436" y2="554" stroke-width="0.8" />
<line x1="436" y1="554" x2="436" y2="538" stroke-width="0.8" />
<line x1="415.6" y1="559.7" x2="422.5" y2="577" stroke-width="0.95" />
<path d="M293.3,598 Q294,594 301,594 Q318,598 327,606 Q330,611 327,614.9" stroke-width="1.1" />
<path d="M294.8,597.5 Q312,601 327.4,613 M296,595.8 Q313,599 328.6,610" stroke-width="0.9" />
<path d="M302,592.8 Q317,596 326,604.5" stroke-width="3.2" stroke-dasharray="0.7 0.7" stroke-linecap="butt"/>
<path d="M302,591.6 Q317,594.8 326.8,603.4" stroke-width="0.9" />
<path d="M293.3,599.4 Q296,604 300.1,605.8 L299,609.2 Q306,615 312.2,617.1 L316.8,613 L318.3,615.3 Q322,616 325.8,615.6 L327,614.9" stroke-width="1.1" />
<line x1="275" y1="599" x2="293.3" y2="599" stroke-width="0.95" />
<path d="M57.5,828.2 L67.6,809.6 L70.4,812.6 L90.8,801.6 L93.6,803.2 L93.8,816.8 L71.4,829.6 L70.7,835.2 Z" stroke-width="1.3"/>
<path d="M67.6,809.6 L69.6,807.4 L72.2,810.9 L91.6,800 L94.8,801.6 L93.6,803.2 M72.2,810.9 L70.4,812.6 M59.8,827.4 L69.4,809.8" stroke-width="1.1"/>
<text x="0" y="0" font-size="15.5" font-weight="bold" transform="translate(71.2,830) skewY(-28) skewX(-10) scale(0.62,1)" fill="#000" stroke="#000" stroke-width="0.9">FWD</text>
</g>
<g fill="#000" stroke="#fff" stroke-width="0.12" font-size="12.3">
<text transform="translate(334.10,112.4) scale(1.22,1)">2</text><path transform="translate(342.44,112.4)" d="M5.1,0 L5.1,-6.4 Q4.1,-5.3 1.9,-5.0 L1.9,-6.3 Q4.7,-6.7 5.3,-8.9 L6.45,-8.9 L6.45,0 Z"/>
<text transform="translate(444.10,120.2) scale(1.22,1)">2</text><path transform="translate(452.44,120.2)" d="M5.1,0 L5.1,-6.4 Q4.1,-5.3 1.9,-5.0 L1.9,-6.3 Q4.7,-6.7 5.3,-8.9 L6.45,-8.9 L6.45,0 Z"/>
<text transform="translate(336.90,140.3) scale(1.22,1)">2</text><text transform="translate(345.24,140.3) scale(1.22,1)">0</text>
<text transform="translate(444.50,147.5) scale(1.22,1)">2</text><text transform="translate(452.84,147.5) scale(1.22,1)">0</text>
<text transform="translate(334.90,158.0) scale(1.22,1)">2</text><text transform="translate(343.24,158.0) scale(1.22,1)">5</text>
<path transform="translate(298.10,178.5)" d="M5.1,0 L5.1,-6.4 Q4.1,-5.3 1.9,-5.0 L1.9,-6.3 Q4.7,-6.7 5.3,-8.9 L6.45,-8.9 L6.45,0 Z"/><text transform="translate(306.44,178.5) scale(1.22,1)">9</text>
<path transform="translate(309.70,262.5)" d="M5.1,0 L5.1,-6.4 Q4.1,-5.3 1.9,-5.0 L1.9,-6.3 Q4.7,-6.7 5.3,-8.9 L6.45,-8.9 L6.45,0 Z"/><text transform="translate(318.04,262.5) scale(1.22,1)">9</text>
<path transform="translate(454.80,240.4)" d="M5.1,0 L5.1,-6.4 Q4.1,-5.3 1.9,-5.0 L1.9,-6.3 Q4.7,-6.7 5.3,-8.9 L6.45,-8.9 L6.45,0 Z"/><text transform="translate(463.14,240.4) scale(1.22,1)">4</text>
<path transform="translate(341.40,266.3)" d="M5.1,0 L5.1,-6.4 Q4.1,-5.3 1.9,-5.0 L1.9,-6.3 Q4.7,-6.7 5.3,-8.9 L6.45,-8.9 L6.45,0 Z"/><text transform="translate(349.74,266.3) scale(1.22,1)">3</text>
<path transform="translate(341.40,293.1)" d="M5.1,0 L5.1,-6.4 Q4.1,-5.3 1.9,-5.0 L1.9,-6.3 Q4.7,-6.7 5.3,-8.9 L6.45,-8.9 L6.45,0 Z"/><text transform="translate(349.74,293.1) scale(1.22,1)">5</text>
<path transform="translate(344.90,324.1)" d="M5.1,0 L5.1,-6.4 Q4.1,-5.3 1.9,-5.0 L1.9,-6.3 Q4.7,-6.7 5.3,-8.9 L6.45,-8.9 L6.45,0 Z"/><text transform="translate(353.24,324.1) scale(1.22,1)">6</text>
<text transform="translate(257.40,336.3) scale(1.22,1)">5</text>
<text transform="translate(176.10,346.0) scale(1.22,1)">3</text>
<path transform="translate(110.40,359.6)" d="M5.1,0 L5.1,-6.4 Q4.1,-5.3 1.9,-5.0 L1.9,-6.3 Q4.7,-6.7 5.3,-8.9 L6.45,-8.9 L6.45,0 Z"/><path transform="translate(118.74,359.6)" d="M5.1,0 L5.1,-6.4 Q4.1,-5.3 1.9,-5.0 L1.9,-6.3 Q4.7,-6.7 5.3,-8.9 L6.45,-8.9 L6.45,0 Z"/>
<path transform="translate(53.80,436.7)" d="M5.1,0 L5.1,-6.4 Q4.1,-5.3 1.9,-5.0 L1.9,-6.3 Q4.7,-6.7 5.3,-8.9 L6.45,-8.9 L6.45,0 Z"/><text transform="translate(62.14,436.7) scale(1.22,1)">0</text>
<text transform="translate(86.10,431.6) scale(1.22,1)">2</text><text transform="translate(94.44,431.6) scale(1.22,1)">4</text>
<path transform="translate(97.50,479.7)" d="M5.1,0 L5.1,-6.4 Q4.1,-5.3 1.9,-5.0 L1.9,-6.3 Q4.7,-6.7 5.3,-8.9 L6.45,-8.9 L6.45,0 Z"/><path transform="translate(105.84,479.7)" d="M5.1,0 L5.1,-6.4 Q4.1,-5.3 1.9,-5.0 L1.9,-6.3 Q4.7,-6.7 5.3,-8.9 L6.45,-8.9 L6.45,0 Z"/>
<text transform="translate(42.40,472.7) scale(1.22,1)">2</text><text transform="translate(50.74,472.7) scale(1.22,1)">3</text>
<text transform="translate(67.50,471.0) scale(1.22,1)">2</text><text transform="translate(75.84,471.0) scale(1.22,1)">4</text>
<text transform="translate(254.00,371.1) scale(1.22,1)">2</text><text transform="translate(262.34,371.1) scale(1.22,1)">2</text>
<text transform="translate(281.50,374.1) scale(1.22,1)">9</text>
<text transform="translate(243.80,488.1) scale(1.22,1)">7</text>
<path transform="translate(447.80,387.2)" d="M5.1,0 L5.1,-6.4 Q4.1,-5.3 1.9,-5.0 L1.9,-6.3 Q4.7,-6.7 5.3,-8.9 L6.45,-8.9 L6.45,0 Z"/>
<path transform="translate(499.80,388.7)" d="M5.1,0 L5.1,-6.4 Q4.1,-5.3 1.9,-5.0 L1.9,-6.3 Q4.7,-6.7 5.3,-8.9 L6.45,-8.9 L6.45,0 Z"/><text transform="translate(508.14,388.7) scale(1.22,1)">8</text>
<path transform="translate(534.60,378.8)" d="M5.1,0 L5.1,-6.4 Q4.1,-5.3 1.9,-5.0 L1.9,-6.3 Q4.7,-6.7 5.3,-8.9 L6.45,-8.9 L6.45,0 Z"/><text transform="translate(542.94,378.8) scale(1.22,1)">7</text>
<path transform="translate(507.40,498.6)" d="M5.1,0 L5.1,-6.4 Q4.1,-5.3 1.9,-5.0 L1.9,-6.3 Q4.7,-6.7 5.3,-8.9 L6.45,-8.9 L6.45,0 Z"/><text transform="translate(515.74,498.6) scale(1.22,1)">8</text>
<text transform="translate(63.80,543.9) scale(1.22,1)">2</text><text transform="translate(72.14,543.9) scale(1.22,1)">3</text>
<text transform="translate(84.40,545.9) scale(1.22,1)">2</text><text transform="translate(92.74,545.9) scale(1.22,1)">4</text>
<text transform="translate(41.10,589.2) scale(1.22,1)">2</text><text transform="translate(49.44,589.2) scale(1.22,1)">3</text>
<text transform="translate(62.80,589.2) scale(1.22,1)">2</text><text transform="translate(71.14,589.2) scale(1.22,1)">4</text>
<text transform="translate(80.50,600.5) scale(1.22,1)">2</text><text transform="translate(88.84,600.5) scale(1.22,1)">3</text>
<text transform="translate(105.40,600.5) scale(1.22,1)">2</text><text transform="translate(113.74,600.5) scale(1.22,1)">4</text>
<text transform="translate(153.30,602.5) scale(1.22,1)">2</text>
<text transform="translate(221.90,595.6) scale(1.22,1)">6</text>
<text transform="translate(509.30,613.9) scale(1.22,1)">8</text>
<text transform="translate(597.00,633.0) scale(1.22,1)">4</text>
<text transform="translate(284.30,565.7) scale(1.22,1)">9</text>
<text transform="translate(264.00,604.7) scale(1.22,1)">5</text>
<path transform="translate(347.90,612.6)" d="M5.1,0 L5.1,-6.4 Q4.1,-5.3 1.9,-5.0 L1.9,-6.3 Q4.7,-6.7 5.3,-8.9 L6.45,-8.9 L6.45,0 Z"/><text transform="translate(356.24,612.6) scale(1.22,1)">2</text>
<path transform="translate(390.30,609.3)" d="M5.1,0 L5.1,-6.4 Q4.1,-5.3 1.9,-5.0 L1.9,-6.3 Q4.7,-6.7 5.3,-8.9 L6.45,-8.9 L6.45,0 Z"/><text transform="translate(398.64,609.3) scale(1.22,1)">2</text>
<path transform="translate(413.90,589.6)" d="M5.1,0 L5.1,-6.4 Q4.1,-5.3 1.9,-5.0 L1.9,-6.3 Q4.7,-6.7 5.3,-8.9 L6.45,-8.9 L6.45,0 Z"/><text transform="translate(422.24,589.6) scale(1.22,1)">9</text>
<path transform="translate(125.30,128.2)" d="M5.1,0 L5.1,-6.4 Q4.1,-5.3 1.9,-5.0 L1.9,-6.3 Q4.7,-6.7 5.3,-8.9 L6.45,-8.9 L6.45,0 Z"/>
</g>
<g fill="#000" stroke="#fff" stroke-width="0.12" font-size="12.3">
<text x="36.5" y="62.4" font-size="12.8" textLength="183.5" lengthAdjust="spacingAndGlyphs">CYLINDER HEAD ASSY 2</text>
<text x="58.5" y="80.1" textLength="106.5" lengthAdjust="spacingAndGlyphs">(Fig.1, Ref.No.1</text>
<text x="64" y="92.9" textLength="138" lengthAdjust="spacingAndGlyphs">Fig.4, Ref.No.1 to 8)</text>
</g>
<text x="55.6" y="852.9" font-size="14.2" fill="#000" stroke="#fff" stroke-width="0.12" textLength="100" lengthAdjust="spacingAndGlyphs">BW41110-S010</text>
</svg></body></html>
